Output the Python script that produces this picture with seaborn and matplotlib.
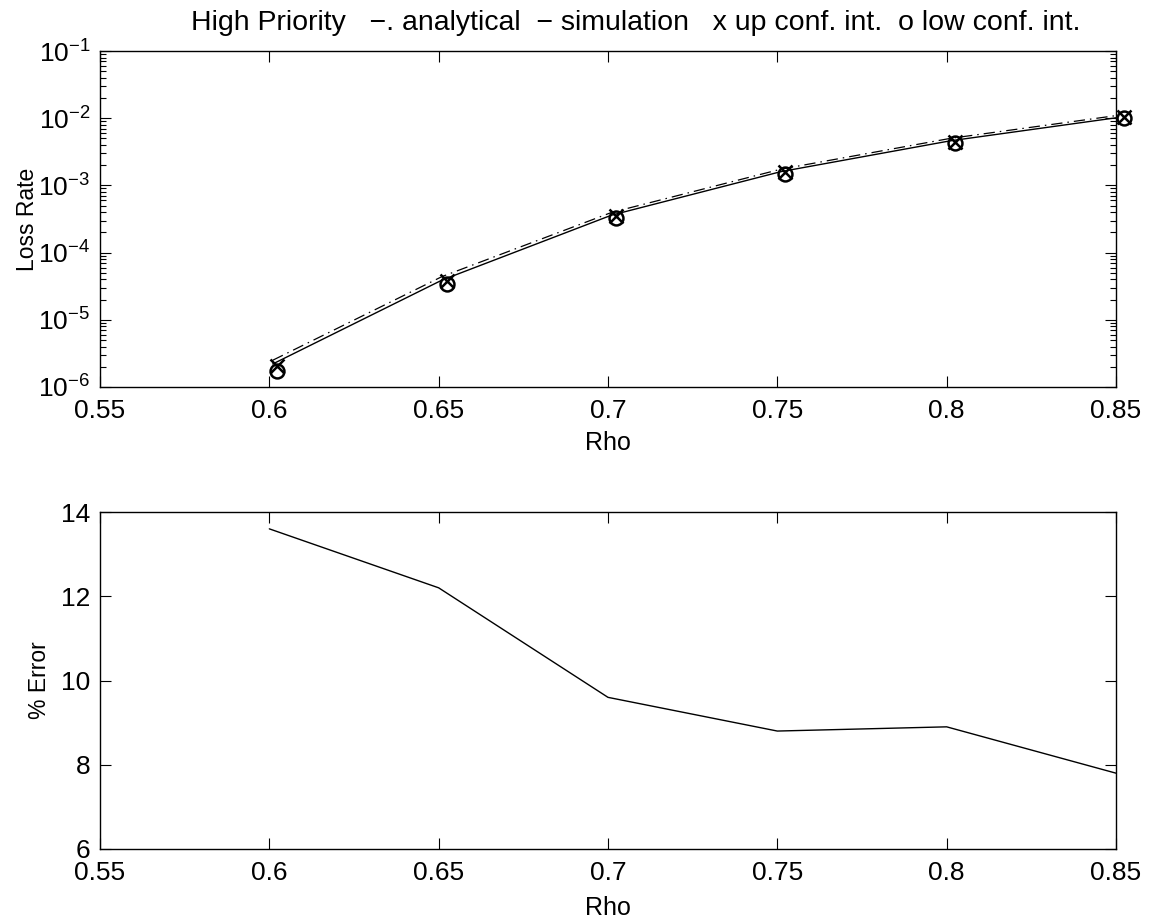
import numpy as np
import pandas as pd
import matplotlib
matplotlib.use("Agg")
import matplotlib.pyplot as plt
import seaborn as sns

# dados
rho = [0.60, 0.65, 0.70, 0.75, 0.80, 0.85]
rho_sim = [0.601, 0.651, 0.701, 0.751, 0.801, 0.851]
rho_ci = [0.6024, 0.6524, 0.7024, 0.7524, 0.8024, 0.8524]
simulation = [2.2e-6, 3.9e-5, 3.6e-4, 1.6e-3, 4.6e-3, 1.03e-2]
analytical = [2.5e-6, 4.4e-5, 3.95e-4, 1.74e-3, 5.0e-3, 1.11e-2]
up_conf = [2.05e-6, 3.75e-5, 3.5e-4, 1.6e-3, 4.5e-3, 1.05e-2]
low_conf = [1.72e-6, 3.45e-5, 3.3e-4, 1.48e-3, 4.25e-3, 9.9e-3]
pct_error = [13.6, 12.2, 9.6, 8.8, 8.9, 7.8]
xticks = [0.55, 0.6, 0.65, 0.7, 0.75, 0.8, 0.85]

sns.set_style("white")
plt.rcParams['font.family'] = ['Liberation Sans', 'DejaVu Sans']
plt.rcParams['mathtext.fontset'] = 'custom'
plt.rcParams['mathtext.rm'] = 'Liberation Sans'
plt.rcParams['mathtext.it'] = 'Liberation Sans'
plt.rcParams['axes.unicode_minus'] = True
plt.rcParams['text.color'] = 'black'
plt.rcParams['axes.labelcolor'] = 'black'
plt.rcParams['xtick.color'] = 'black'
plt.rcParams['ytick.color'] = 'black'

fig = plt.figure(figsize=(11.49, 9.19), dpi=100)
ax1 = fig.add_axes([100/1149, 1-387/919, 1016/1149, 336/919])
ax2 = fig.add_axes([100/1149, 1-849/919, 1016/1149, 337/919])

sim_df = pd.DataFrame({'rho': rho_sim, 'valor': simulation})
ana_df = pd.DataFrame({'rho': rho_sim, 'valor': analytical})
sns.lineplot(data=ana_df, x='rho', y='valor', ax=ax1, color='black', lw=0.9,
             dashes=False, linestyle=(0, (9, 4, 1.2, 4)))
sns.lineplot(data=sim_df, x='rho', y='valor', ax=ax1, color='black', lw=1.0)
ax1.plot(rho_ci, up_conf, 'x', color='black', ms=10, mew=1.8, clip_on=False)
ax1.plot(rho_ci, low_conf, 'o', color='black', ms=10, mew=1.8, mfc='none', clip_on=False)
ax1.set_yscale('log')
ax1.set_ylim(1e-6, 1e-1)
ax1.set_yticks([1e-6, 1e-5, 1e-4, 1e-3, 1e-2, 1e-1])

err_df = pd.DataFrame({'rho': rho, 'erro': pct_error})
sns.lineplot(data=err_df, x='rho', y='erro', ax=ax2, color='black', lw=1.0)
ax2.set_ylim(6, 14)
ax2.set_yticks([6, 8, 10, 12, 14])

for ax in (ax1, ax2):
    ax.set_xlim(0.55, 0.85)
    ax.set_xticks(xticks)
    ax.set_xticklabels(['0.55', '0.6', '0.65', '0.7', '0.75', '0.8', '0.85'])
    ax.tick_params(which='both', direction='in', top=True, right=True,
                   bottom=True, left=True,
                   labelsize=19, color='black', width=0.8)
    ax.tick_params(which='major', length=8)
    ax.tick_params(which='minor', length=4)
    ax.tick_params(axis='x', which='major', pad=9)
    ax.tick_params(axis='y', which='major', pad=7)
    for s in ax.spines.values():
        s.set_visible(True)
        s.set_color('black')
        s.set_linewidth(1.0)

ax1.set_xlabel('Rho', fontsize=18)
ax2.set_xlabel('Rho', fontsize=18)
ax1.xaxis.set_label_coords(0.5, -0.131)
ax2.xaxis.set_label_coords(0.5, -0.139)

ax1.set_ylabel('Loss Rate', fontsize=16.5)
ax2.set_ylabel('% Error', fontsize=16.5)
ax1.yaxis.set_label_coords(-0.060, 0.5)
ax2.yaxis.set_label_coords(-0.048, 0.5)

fig.text(0.553, 1-23/919,
         'High Priority   \u2212. analytical  \u2212 simulation   x up conf. int.  o low conf. int.',
         fontsize=20.5, ha='center', va='center')

plt.savefig('out.png', dpi=100)
